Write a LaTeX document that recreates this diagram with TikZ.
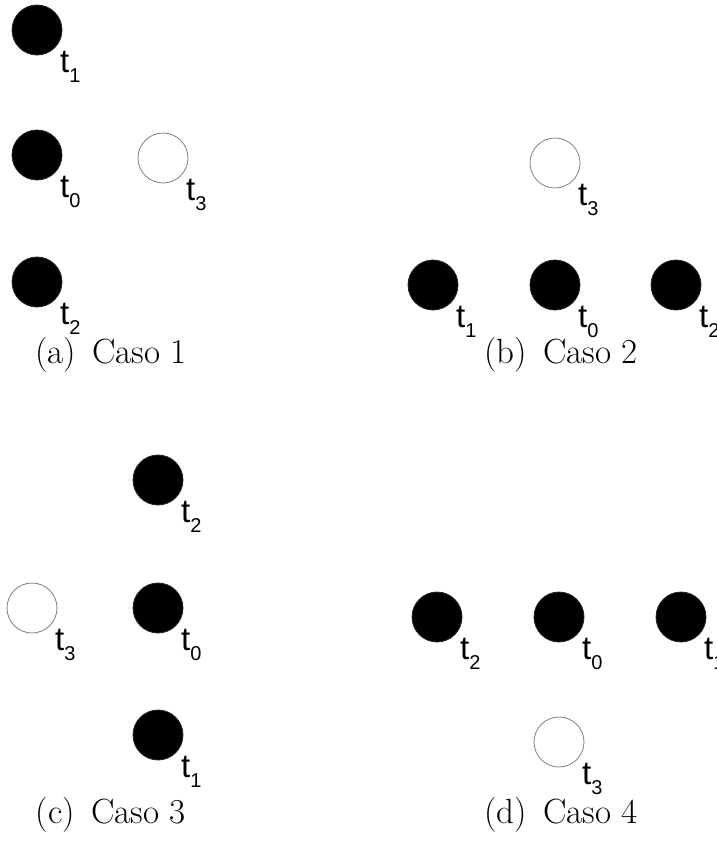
\documentclass[tikz,border=0pt]{standalone}
\usepackage{fontspec}
\newfontfamily\labfont{Liberation Sans}
\newcommand{\tlab}[1]{{\labfont\fontsize{33}{33}\selectfont t\raisebox{-10pt}{\fontsize{20}{20}\selectfont #1}}}
\begin{document}
\begin{tikzpicture}[x=1pt,y=-1pt,
  bdot/.style={circle,draw=black!85,line width=0.8pt,fill=black,minimum size=50pt,inner sep=0pt},
  wdot/.style={circle,draw=black!50,line width=0.8pt,fill=white,minimum size=50pt,inner sep=0pt},
  lab/.style={anchor=base west,inner sep=0pt},
  captext/.style={anchor=base,inner sep=0pt,font=\fontsize{35}{35}\selectfont}]
\useasboundingbox (0,0) rectangle (717,844);
% (a)
\node[bdot] (a1) at (37,30) {};
\node[bdot] (a0) at (37,155) {};
\node[wdot] (a3) at (163,158) {};
\node[bdot] (a2) at (37,282) {};
\node[lab] (la1) at (60,72) {\tlab{1}};
\node[lab] (la0) at (60,197) {\tlab{0}};
\node[lab] (la3) at (186,200) {\tlab{3}};
\node[lab] (la2) at (60,324) {\tlab{2}};
\node[captext] (ca) at (111,363) {(a)\ \,Caso 1};
% (b)
\node[wdot] (b3) at (555,163) {};
\node[bdot] (b1) at (433,285) {};
\node[bdot] (b0) at (555,285) {};
\node[bdot] (b2) at (676,285) {};
\node[lab] (lb3) at (578,205) {\tlab{3}};
\node[lab] (lb1) at (456,327) {\tlab{1}};
\node[lab] (lb0) at (578,327) {\tlab{0}};
\node[lab] (lb2) at (699,327) {\tlab{2}};
\node[captext] (cb) at (561,363) {(b)\ \,Caso 2};
% (c)
\node[bdot] (c2) at (158,480) {};
\node[wdot] (c3) at (32,608) {};
\node[bdot] (c0) at (158,608) {};
\node[bdot] (c1) at (158,735) {};
\node[lab] (lc2) at (181,522) {\tlab{2}};
\node[lab] (lc3) at (55,650) {\tlab{3}};
\node[lab] (lc0) at (181,650) {\tlab{0}};
\node[lab] (lc1) at (181,777) {\tlab{1}};
\node[captext] (cc) at (111,823) {(c)\ \,Caso 3};
% (d)
\node[bdot] (d2) at (437,617) {};
\node[bdot] (d0) at (559,617) {};
\node[bdot] (d1) at (681,617) {};
\node[wdot] (d3) at (559,742) {};
\node[lab] (ld2) at (460,659) {\tlab{2}};
\node[lab] (ld0) at (582,659) {\tlab{0}};
\node[lab] (ld1) at (704,659) {\tlab{1}};
\node[lab] (ld3) at (582,784) {\tlab{3}};
\node[captext] (cd) at (561,823) {(d)\ \,Caso 4};
\end{tikzpicture}
\end{document}
